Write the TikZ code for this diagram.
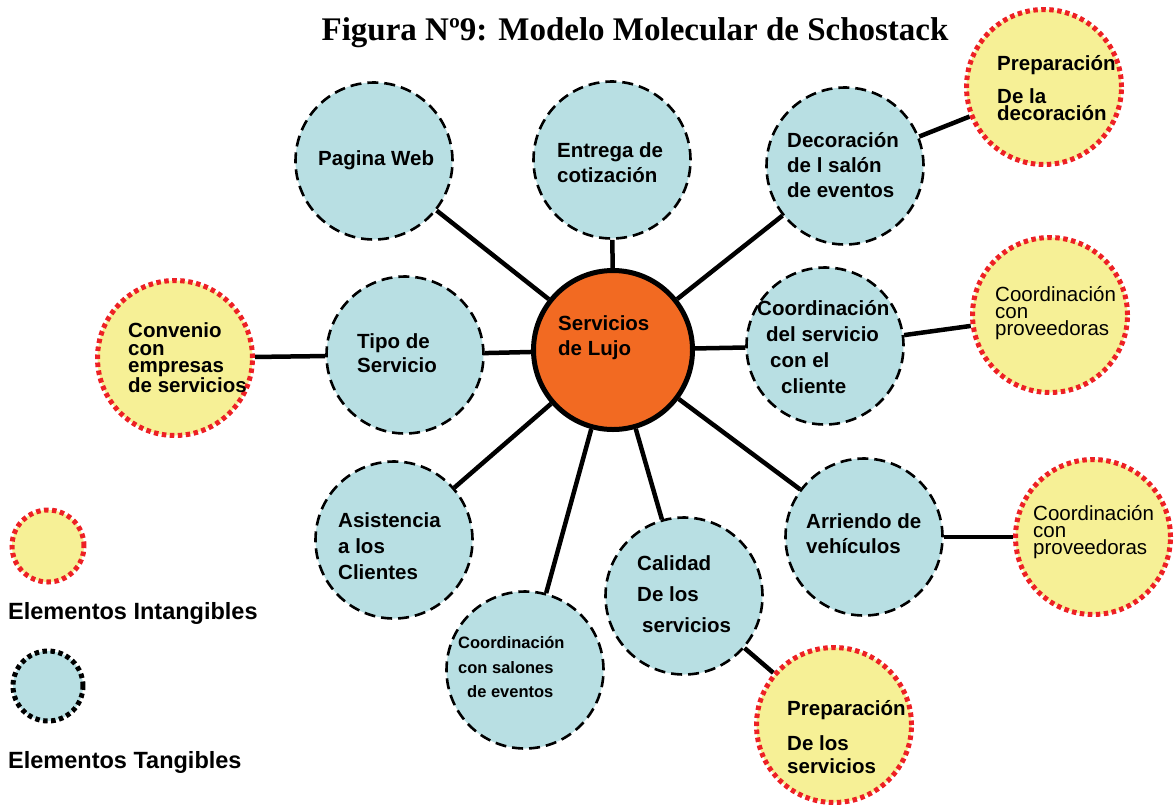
\documentclass[tikz,border=0pt]{standalone}
\usepackage{fontspec}
\setmainfont{Liberation Serif}
\newfontfamily\arialf{Liberation Sans}
\usetikzlibrary{backgrounds}
\definecolor{tblue}{RGB}{184,223,227}
\definecolor{iyellow}{RGB}{246,240,150}
\definecolor{dred}{RGB}{237,32,36}
\definecolor{corange}{RGB}{242,106,34}
\begin{document}
\begin{tikzpicture}[x=1pt,y=-1pt,
  tang/.style={circle, minimum size=157pt, inner sep=0pt, fill=tblue, draw=black, line width=2.6pt, dash pattern=on 11pt off 6pt},
  intang/.style={circle, minimum size=155pt, inner sep=0pt, fill=iyellow, draw=dred, line width=5pt, dash pattern=on 4.5pt off 3.5pt},
  legi/.style={circle, minimum size=72pt, inner sep=0pt, fill=iyellow, draw=dred, line width=5pt, dash pattern=on 4.5pt off 3.5pt},
  legt/.style={circle, minimum size=70pt, inner sep=0pt, fill=tblue, draw=black, line width=5pt, dash pattern=on 4.5pt off 3.5pt},
  core/.style={circle, minimum size=159pt, inner sep=0pt, fill=corange, draw=black, line width=5pt},
  lbl/.style={anchor=west, inner sep=0pt, align=left, font=\arialf\bfseries\fontsize{20.5}{#1}\selectfont},
  lbl/.default=25,
  lblr/.style={anchor=west, inner sep=0pt, align=left, font=\arialf\fontsize{20.5}{#1}\selectfont},
  lblr/.default=17.5,
  legtext/.style={anchor=west, inner sep=0pt, font=\arialf\bfseries\fontsize{23.5}{28}\selectfont},
  spoke/.style={line width=4.5pt},
]
\useasboundingbox (0,0) rectangle (1174,804);

% title
\node[font=\bfseries\fontsize{33}{38}\selectfont, inner sep=0pt] (title) at (635,33) {Figura Nº9: Modelo Molecular de Schostack};

% circles
\node[core] (lujo) at (613,350) {};
\node[tang] (web) at (374,161) {};
\node[tang] (entrega) at (612,160) {};
\node[tang] (deco) at (845,166) {};
\node[tang] (tipo) at (405,355) {};
\node[tang] (coordserv) at (825,346) {};
\node[tang] (asist) at (394,540) {};
\node[tang] (salones) at (525,670) {};
\node[tang] (calidad) at (684,596) {};
\node[tang] (arriendo) at (864,537) {};

\node[intang] (prepdeco) at (1044,87) {};
\node[intang] (convenio) at (175,358) {};
\node[intang] (prov1) at (1050,315) {};
\node[intang] (prov2) at (1093,537) {};
\node[intang] (prepserv) at (834,725) {};

% connectors
\begin{scope}[on background layer]
\foreach \n in {web,entrega,deco,tipo,coordserv,asist,salones,calidad,arriendo}
  \draw[spoke] (lujo) -- (\n);
\draw[spoke] (convenio) -- (tipo);
\draw[spoke] (deco) -- (prepdeco);
\draw[spoke] (coordserv) -- (prov1);
\draw[spoke] (arriendo) -- (prov2);
\draw[spoke] (calidad) -- (prepserv);
\end{scope}

% texts
\node[lbl] (tweb) at (318,160) {Pagina Web};
\node[lbl] (tentrega) at (557,162.5) {Entrega de\\cotización};
\node[lbl] (tdeco) at (787,165) {Decoración\\de l salón\\de eventos};
\node[lbl] (tlujo) at (558,337.5) {Servicios\\de Lujo};
\node[lbl=24] (ttipo) at (357,353) {Tipo de\\Servicio};
\node[lbl=17.5] (tconvenio) at (128,358) {Convenio\\con\\empresas\\de servicios};
\node[lbl=26] (tcoordserv) at (757,347) {Coordinación\\\hspace*{9pt}del servicio\\\hspace*{13pt}con el\\\hspace*{24pt}cliente};
\node[lblr=17] (tprov1) at (995,313) {Coordinación\\con\\proveedoras};
\node[lbl=26] (tasist) at (338,546) {Asistencia\\a los\\Clientes};
\node[anchor=west, inner sep=0pt, align=left, font=\arialf\bfseries\fontsize{16.5}{24.5}\selectfont] (tsalones) at (458,667.5) {Coordinación\\con salones\\\hspace*{9pt}de eventos};
\node[lbl=31] (tcalidad) at (637,594) {Calidad\\De los\\\hspace*{5pt}servicios};
\node[lbl] (tarriendo) at (806,533.5) {Arriendo de\\vehículos};
\node[lblr=17] (tprov2) at (1033,532) {Coordinación\\con\\proveedoras};
\node[lbl=23] (tprepserv) at (787,737) {Preparación\\[12pt]De los\\servicios};
\node[lbl=17] (tprepdeco) at (997,88.5) {Preparación\\[13pt]De la\\decoración};

% legend
\node[legi] (legint) at (48,546) {};
\node[legtext] (tlegint) at (8,613) {Elementos Intangibles};
\node[legt] (legtan) at (48,686) {};
\node[legtext] (tlegtan) at (8,762) {Elementos Tangibles};
\end{tikzpicture}
\end{document}
